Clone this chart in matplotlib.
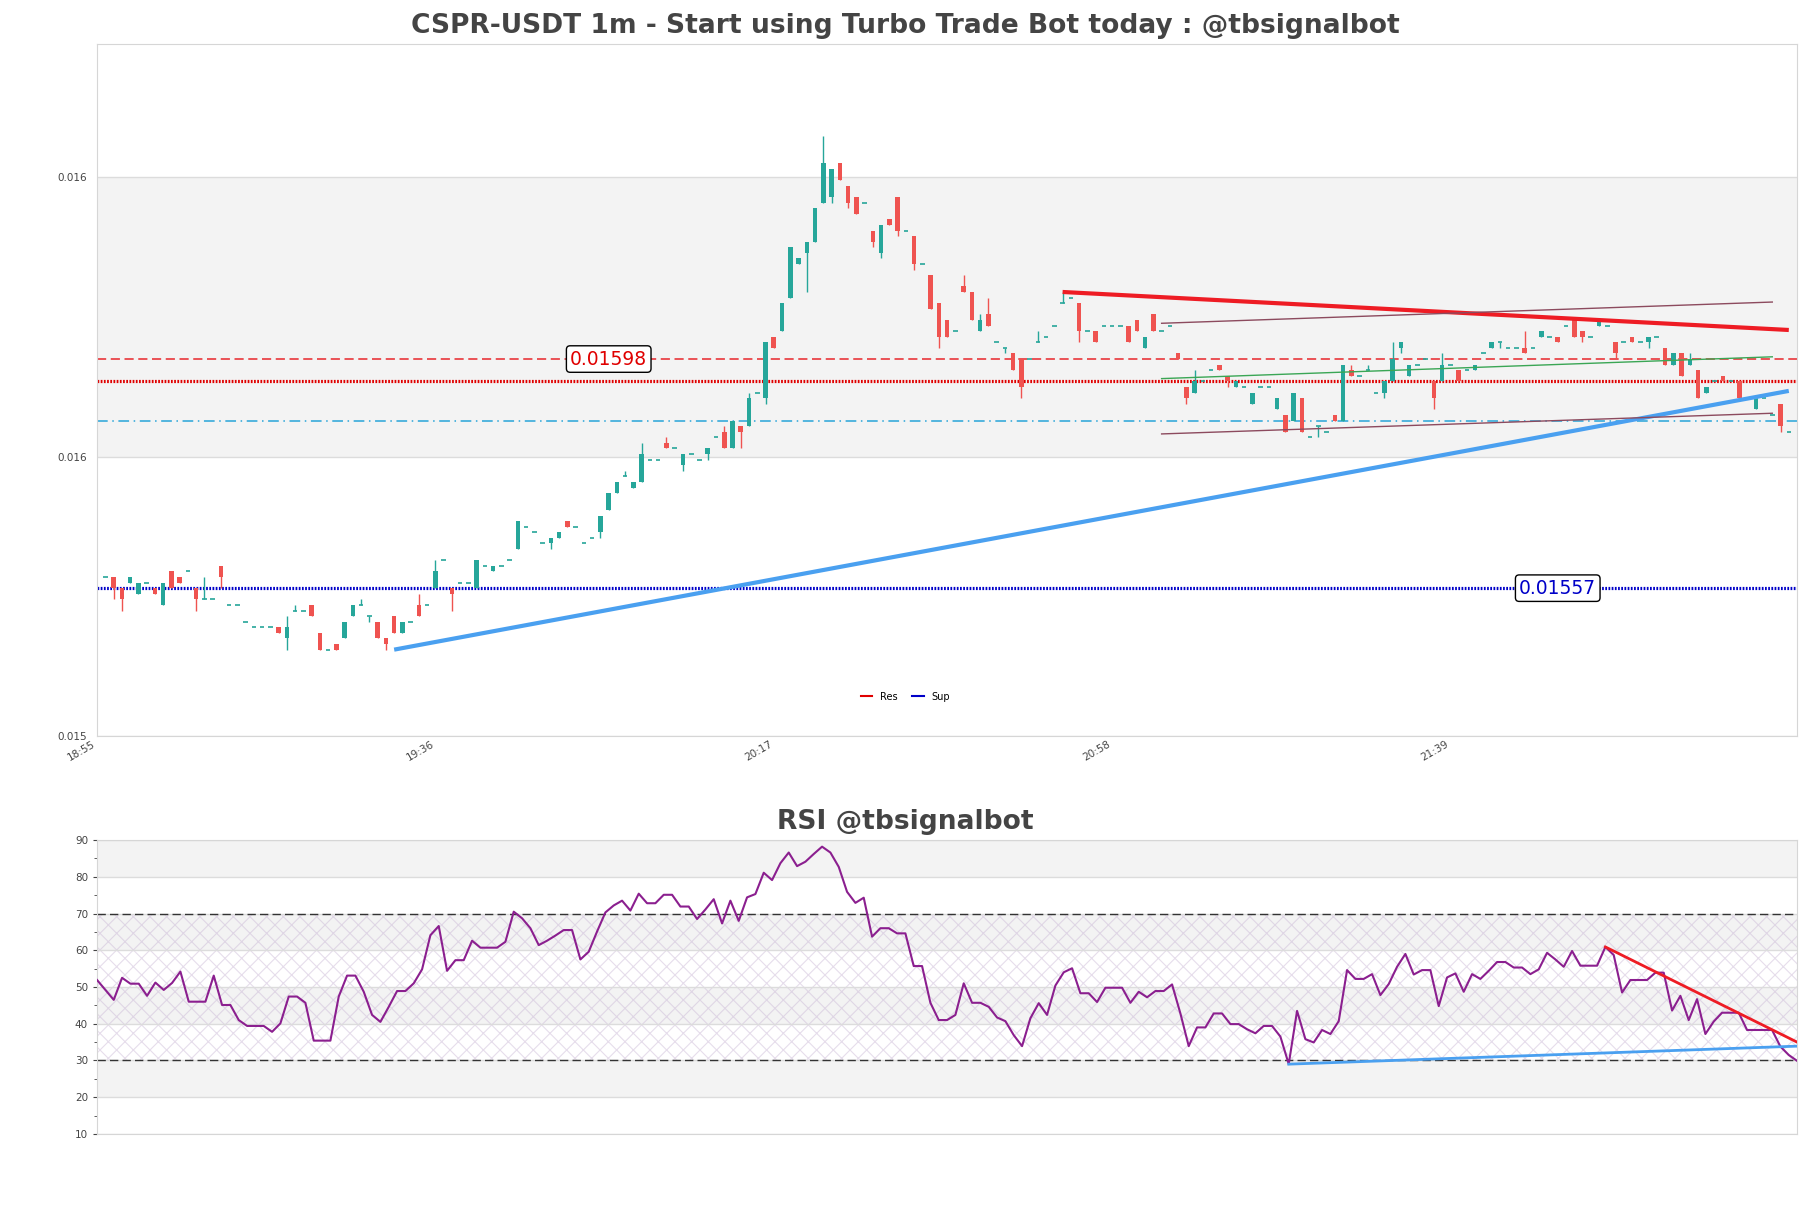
import numpy as np
import matplotlib
matplotlib.use('Agg')
import matplotlib.pyplot as plt
from matplotlib.lines import Line2D
from matplotlib.ticker import FormatStrFormatter, MultipleLocator

# candle prices in units of 0.00001 USDT, one candle per minute (18:56 .. 22:20)
opens = [1559, 1559, 1557, 1558, 1556, 1558, 1557, 1554, 1560, 1559,
         1560, 1557, 1555, 1555, 1561, 1554, 1554, 1551, 1550, 1550,
         1550, 1550, 1548, 1553, 1553, 1554, 1549, 1546, 1547, 1548,
         1552, 1554, 1552, 1551, 1548, 1552, 1549, 1551, 1554, 1554,
         1557, 1562, 1557, 1558, 1558, 1557, 1561, 1560, 1561, 1562,
         1564, 1568, 1567, 1565, 1565, 1566, 1569, 1568, 1565, 1566,
         1567, 1571, 1574, 1577, 1575, 1576, 1580, 1580, 1583, 1582,
         1579, 1581, 1580, 1581, 1584, 1585, 1582, 1586, 1586, 1592,
         1591, 1602, 1603, 1609, 1615, 1617, 1619, 1626, 1627, 1633,
         1629, 1627, 1626, 1621, 1617, 1623, 1627, 1621, 1620, 1615,
         1613, 1608, 1605, 1603, 1611, 1610, 1603, 1606, 1601, 1600,
         1599, 1598, 1598, 1601, 1602, 1604, 1608, 1609, 1608, 1603,
         1603, 1604, 1604, 1604, 1604, 1605, 1600, 1606, 1603, 1604,
         1599, 1593, 1592, 1594, 1596, 1597, 1595, 1593, 1593, 1590,
         1593, 1593, 1589, 1588, 1587, 1591, 1584, 1586, 1585, 1588,
         1587, 1596, 1595, 1596, 1592, 1592, 1594, 1600, 1595, 1597,
         1598, 1594, 1594, 1597, 1596, 1596, 1596, 1599, 1600, 1601,
         1600, 1600, 1600, 1600, 1602, 1602, 1602, 1604, 1605, 1603,
         1602, 1604, 1604, 1601, 1601, 1602, 1601, 1601, 1602, 1600,
         1597, 1599, 1597, 1596, 1592, 1594, 1595, 1594, 1594, 1591,
         1589, 1591, 1588, 1590, 1585]
highs = [1559, 1559, 1557, 1559, 1558, 1558, 1557, 1558, 1560, 1559,
         1560, 1557, 1559, 1555, 1561, 1554, 1554, 1551, 1550, 1550,
         1550, 1550, 1552, 1554, 1553, 1554, 1549, 1546, 1547, 1551,
         1554, 1555, 1552, 1551, 1548, 1552, 1551, 1551, 1556, 1554,
         1562, 1562, 1557, 1558, 1558, 1562, 1561, 1561, 1561, 1562,
         1569, 1568, 1567, 1565, 1566, 1567, 1569, 1568, 1565, 1566,
         1570, 1574, 1576, 1578, 1576, 1583, 1580, 1580, 1584, 1582,
         1581, 1581, 1580, 1582, 1584, 1586, 1587, 1586, 1592, 1592,
         1601, 1602, 1608, 1618, 1616, 1619, 1625, 1638, 1632, 1633,
         1629, 1627, 1626, 1621, 1622, 1623, 1627, 1621, 1620, 1615,
         1613, 1608, 1605, 1603, 1613, 1610, 1606, 1609, 1601, 1600,
         1599, 1598, 1598, 1603, 1602, 1604, 1610, 1609, 1608, 1603,
         1603, 1604, 1604, 1604, 1604, 1605, 1602, 1606, 1603, 1604,
         1599, 1593, 1596, 1594, 1596, 1597, 1595, 1594, 1593, 1592,
         1593, 1593, 1591, 1588, 1592, 1591, 1584, 1586, 1585, 1588,
         1597, 1597, 1595, 1597, 1592, 1594, 1601, 1601, 1597, 1597,
         1598, 1594, 1599, 1597, 1596, 1596, 1597, 1599, 1601, 1601,
         1600, 1600, 1603, 1600, 1603, 1602, 1602, 1604, 1605, 1603,
         1602, 1605, 1604, 1601, 1601, 1602, 1601, 1602, 1602, 1600,
         1599, 1599, 1599, 1596, 1593, 1594, 1595, 1594, 1594, 1591,
         1591, 1591, 1588, 1590, 1585]
lows = [1559, 1555, 1553, 1558, 1556, 1558, 1556, 1554, 1557, 1558,
        1560, 1553, 1555, 1555, 1557, 1554, 1554, 1551, 1550, 1550,
        1550, 1549, 1546, 1553, 1553, 1552, 1546, 1546, 1546, 1548,
        1552, 1554, 1551, 1548, 1546, 1549, 1549, 1551, 1552, 1554,
        1557, 1562, 1553, 1558, 1558, 1557, 1561, 1560, 1561, 1562,
        1564, 1568, 1567, 1565, 1564, 1566, 1568, 1568, 1565, 1566,
        1566, 1571, 1574, 1577, 1575, 1576, 1580, 1580, 1582, 1582,
        1578, 1581, 1580, 1580, 1584, 1582, 1582, 1582, 1586, 1592,
        1590, 1600, 1603, 1609, 1615, 1610, 1619, 1626, 1626, 1630,
        1625, 1624, 1626, 1618, 1616, 1622, 1620, 1621, 1614, 1615,
        1607, 1600, 1602, 1603, 1610, 1605, 1603, 1604, 1601, 1599,
        1596, 1591, 1598, 1601, 1602, 1604, 1608, 1609, 1601, 1603,
        1601, 1604, 1604, 1604, 1601, 1603, 1600, 1603, 1603, 1604,
        1598, 1590, 1592, 1594, 1596, 1596, 1593, 1593, 1593, 1590,
        1593, 1593, 1589, 1585, 1587, 1585, 1584, 1584, 1585, 1587,
        1587, 1595, 1595, 1596, 1592, 1591, 1594, 1599, 1595, 1597,
        1598, 1589, 1594, 1597, 1594, 1596, 1596, 1599, 1600, 1600,
        1600, 1600, 1599, 1600, 1602, 1602, 1601, 1604, 1602, 1601,
        1602, 1604, 1604, 1598, 1601, 1601, 1601, 1600, 1602, 1597,
        1597, 1595, 1597, 1591, 1592, 1594, 1594, 1594, 1591, 1591,
        1589, 1591, 1588, 1585, 1585]
closes = [1559, 1557, 1555, 1559, 1558, 1558, 1556, 1558, 1557, 1558,
          1560, 1555, 1555, 1555, 1559, 1554, 1554, 1551, 1550, 1550,
          1550, 1549, 1550, 1553, 1553, 1552, 1546, 1546, 1546, 1551,
          1554, 1554, 1552, 1548, 1547, 1549, 1551, 1551, 1552, 1554,
          1560, 1562, 1556, 1558, 1558, 1562, 1561, 1561, 1561, 1562,
          1569, 1568, 1567, 1565, 1566, 1567, 1568, 1568, 1565, 1566,
          1570, 1574, 1576, 1577, 1576, 1581, 1580, 1580, 1582, 1582,
          1581, 1581, 1580, 1582, 1584, 1582, 1587, 1585, 1591, 1592,
          1601, 1600, 1608, 1618, 1616, 1619, 1625, 1633, 1632, 1630,
          1626, 1624, 1626, 1619, 1622, 1622, 1621, 1621, 1615, 1615,
          1607, 1602, 1602, 1603, 1610, 1605, 1605, 1604, 1601, 1600,
          1596, 1593, 1598, 1601, 1602, 1604, 1608, 1609, 1603, 1603,
          1601, 1604, 1604, 1604, 1601, 1603, 1602, 1603, 1603, 1604,
          1598, 1591, 1594, 1594, 1596, 1596, 1594, 1594, 1593, 1592,
          1593, 1593, 1591, 1585, 1592, 1585, 1584, 1586, 1585, 1587,
          1597, 1595, 1595, 1596, 1592, 1594, 1598, 1601, 1597, 1597,
          1598, 1591, 1597, 1597, 1594, 1596, 1597, 1599, 1601, 1601,
          1600, 1600, 1599, 1600, 1603, 1602, 1601, 1604, 1602, 1602,
          1602, 1605, 1604, 1599, 1601, 1601, 1601, 1602, 1602, 1597,
          1599, 1595, 1598, 1591, 1593, 1594, 1594, 1594, 1591, 1591,
          1591, 1591, 1588, 1586, 1585]

rsi = [51.9, 49.2, 46.5, 52.5, 50.9, 50.9, 47.6, 51.2, 49.2, 51.1,
       54.2, 46.0, 46.0, 46.0, 53.1, 45.1, 45.1, 41.0, 39.4, 39.4,
       39.4, 37.8, 40.1, 47.4, 47.4, 45.7, 35.4, 35.4, 35.4, 47.4,
       53.1, 53.1, 48.7, 42.4, 40.5, 44.6, 48.9, 48.9, 51.0, 54.8,
       64.1, 66.6, 54.4, 57.3, 57.3, 62.6, 60.7, 60.7, 60.7, 62.3,
       70.5, 68.7, 66.0, 61.4, 62.6, 64.0, 65.5, 65.5, 57.5, 59.6,
       65.1, 70.3, 72.2, 73.5, 70.8, 75.4, 72.8, 72.8, 75.1, 75.1,
       71.9, 71.9, 68.5, 71.1, 73.9, 67.3, 73.5, 68.0, 74.4, 75.3,
       81.1, 79.1, 83.7, 86.6, 82.9, 84.1, 86.2, 88.2, 86.6, 82.7,
       75.9, 72.9, 74.3, 63.7, 66.0, 66.0, 64.6, 64.6, 55.7, 55.7,
       45.7, 41.0, 41.0, 42.4, 51.0, 45.7, 45.7, 44.6, 41.7, 40.7,
       36.9, 33.9, 41.5, 45.6, 42.4, 50.4, 54.0, 55.1, 48.3, 48.3,
       45.9, 49.8, 49.8, 49.8, 45.7, 48.7, 47.2, 48.9, 48.9, 50.7,
       42.8, 33.9, 39.0, 39.0, 42.8, 42.8, 39.9, 39.9, 38.5, 37.4,
       39.4, 39.4, 36.5, 29.0, 43.5, 35.8, 34.9, 38.3, 37.2, 40.7,
       54.6, 52.2, 52.2, 53.5, 47.8, 50.8, 55.5, 59.0, 53.4, 54.6,
       54.6, 44.8, 52.6, 53.7, 48.7, 53.5, 52.2, 54.4, 56.8, 56.8,
       55.3, 55.3, 53.5, 54.8, 59.3, 57.5, 55.5, 59.8, 55.8, 55.8,
       55.8, 60.9, 58.7, 48.5, 51.9, 51.9, 51.9, 53.9, 53.9, 43.6,
       47.6, 41.0, 46.7, 37.2, 40.6, 43.0, 43.0, 43.0, 38.3, 38.3,
       38.3, 38.3, 33.8, 31.5, 29.9]

time_ticks = [-1, 40, 81, 122, 163]
time_labels = ['18:55', '19:36', '20:17', '20:58', '21:39']

# horizontal levels
level_labeled = 0.01598
level_res = 0.01594
level_mid = 0.01587
level_sup = 0.01557

# trend lines (candle index, price)
res_trend_x, res_trend_y = [116, 204], [0.01610, 0.016032]
sup_trend_x, sup_trend_y = [35, 204], [0.01546, 0.015923]
channel_x = [128, 202]
channel_upper = [0.016044, 0.016082]
channel_mid = [0.015945, 0.015984]
channel_lower = [0.015846, 0.015883]

# rsi trend lines
rsi_res_x, rsi_res_y = [181, 204], [60.9, 35.0]
rsi_sup_x, rsi_sup_y = [143, 204], [29.0, 33.9]

GREEN = '#26a69a'
RED = '#ef5350'
BAND = '#f3f3f3'
GRID = '#dcdcdc'
TXT = '#444444'

plt.rcParams['hatch.linewidth'] = 0.8

o = np.array(opens)
h = np.array(highs)
l = np.array(lows)
c = np.array(closes)
n = len(o)
x = np.arange(n)

fig = plt.figure(figsize=(18.11, 12.08), dpi=100)
ax = fig.add_axes([0.0536, 0.3907, 0.9387, 0.5729])
ax2 = fig.add_axes([0.0536, 0.0613, 0.9387, 0.2433])

# ---- price panel ----
ymin = l.min() / 1e5 * 0.99
ymax = h.max() / 1e5 * 1.01
yt = np.arange(ymin, ymax, 0.0005)
edges = list(yt) + [ymax]
for k in range(len(edges) - 1):
    if k % 2 == 1:
        ax.axhspan(edges[k], edges[k + 1], color=BAND, zorder=0, lw=0)

colors = np.where(c >= o, GREEN, RED)
ax.vlines(x, l / 1e5, h / 1e5, colors=colors, lw=1, zorder=3)
has_body = c != o
bw = 0.55
ax.bar(x[has_body], np.abs(c - o)[has_body] / 1e5, bottom=np.minimum(o, c)[has_body] / 1e5,
       width=bw, color=colors[has_body], lw=0, zorder=4)
flat = ~has_body
ax.hlines(o[flat] / 1e5, x[flat] - bw / 2, x[flat] + bw / 2, colors=colors[flat], lw=1.2, zorder=4)

ax.axhline(level_labeled, color='#e8262b', ls=(0, (6, 3)), lw=1.1, zorder=2)
ax.axhline(level_res, color='#e00000', ls=(0, (0.55, 0.45)), lw=2.3, zorder=2)
ax.axhline(level_mid, color='#27a4d8', ls=(0, (7, 3, 1, 3)), lw=1.1, zorder=2)
ax.axhline(level_sup, color='#0000c8', ls=(0, (0.55, 0.45)), lw=2.3, zorder=2)

box = dict(boxstyle='round,pad=0.2', fc='white', ec='black', lw=1)
ax.text(61, level_labeled, f'{level_labeled:.5f}', color='#e00000', fontsize=13.5,
        ha='center', va='center', bbox=box, zorder=6)
ax.text(176, level_sup, f'{level_sup:.5f}', color='#0000c8', fontsize=13.5,
        ha='center', va='center', bbox=box, zorder=6)

ax.plot(res_trend_x, res_trend_y, color='#ee1c24', lw=3, zorder=5, solid_capstyle='butt')
ax.plot(sup_trend_x, sup_trend_y, color='#4aa0f0', lw=3, zorder=5, solid_capstyle='butt')
ax.plot(channel_x, channel_upper, color='#8c4a5e', lw=1, zorder=5)
ax.plot(channel_x, channel_mid, color='#3aa655', lw=1, zorder=5)
ax.plot(channel_x, channel_lower, color='#8c4a5e', lw=1, zorder=5)

ax.set_xlim(-1, n)
ax.set_ylim(ymin, ymax)
ax.set_yticks(yt)
ax.yaxis.set_major_formatter(FormatStrFormatter('%.3f'))
ax.set_xticks(time_ticks)
ax.set_xticklabels(time_labels, rotation=30, ha='right')
ax.tick_params(axis='both', labelsize=7.5, colors=TXT, length=0)
ax.tick_params(axis='y', pad=7)
ax.tick_params(axis='x', pad=2)
ax.grid(axis='y', color=GRID, lw=1, zorder=1)
ax.set_axisbelow(True)
for s in ax.spines.values():
    s.set_color('#d6d6d6')

handles = [Line2D([], [], color='#e00000', lw=1.5), Line2D([], [], color='#0000c8', lw=1.5)]
ax.legend(handles, ['Res', 'Sup'], loc='center', bbox_to_anchor=(0.4755, 0.057), ncol=2,
          fontsize=7, frameon=False, handlelength=1.2, columnspacing=1.5)

fig.text(0.5, 0.9729, 'CSPR-USDT 1m - Start using Turbo Trade Bot today : @tbsignalbot',
         ha='center', va='baseline', fontsize=19.1, fontweight='bold', color=TXT)

# ---- RSI panel ----
rsi_ticks = np.arange(10, 91, 10)
for k in range(len(rsi_ticks) - 1):
    if k % 2 == 1:
        ax2.axhspan(rsi_ticks[k], rsi_ticks[k + 1], color=BAND, zorder=0, lw=0)
ax2.axhspan(30, 70, facecolor='none', hatch='xx', edgecolor='#c8b4d4', lw=0, alpha=0.45, zorder=0.5)
ax2.axhline(70, color='#333333', ls=(0, (6, 3)), lw=1, zorder=2)
ax2.axhline(30, color='#333333', ls=(0, (6, 3)), lw=1, zorder=2)
ax2.plot(x, rsi, color='#8b1f8f', lw=1.5, zorder=3)
ax2.plot(rsi_res_x, rsi_res_y, color='#ee1c24', lw=2, zorder=4)
ax2.plot(rsi_sup_x, rsi_sup_y, color='#4aa0f0', lw=2, zorder=4)

ax2.set_xlim(0, n - 1)
ax2.set_ylim(10, 90)
ax2.set_yticks(rsi_ticks)
ax2.yaxis.set_minor_locator(MultipleLocator(5))
ax2.set_xticks([])
ax2.tick_params(axis='y', which='both', labelsize=7.5, colors=TXT, length=3)
ax2.tick_params(axis='y', which='minor', length=2)
ax2.grid(axis='y', color=GRID, lw=1, zorder=1)
ax2.set_axisbelow(True)
for s in ax2.spines.values():
    s.set_color('#d6d6d6')

fig.text(0.5, 0.3137, 'RSI @tbsignalbot', ha='center', va='baseline',
         fontsize=19.1, fontweight='bold', color=TXT)

fig.savefig('out.png', dpi=100)
